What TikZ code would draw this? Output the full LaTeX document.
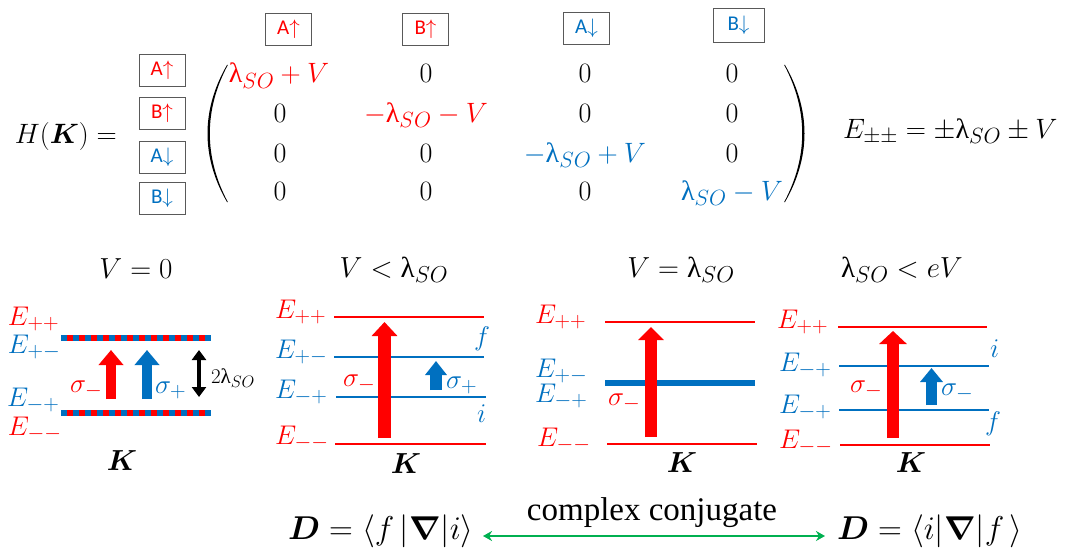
\documentclass[tikz,border=0pt]{standalone}
\usepackage{fix-cm}
\usepackage{amsmath}
\usepackage{fontspec}
\newfontfamily\carlito{Carlito}
\newfontfamily\lser{Liberation Serif}
\usetikzlibrary{arrows.meta}
\definecolor{myred}{RGB}{255,0,0}
\definecolor{myblue}{RGB}{0,112,192}
\definecolor{mygreen}{RGB}{0,176,80}
\DeclareMathSizes{21}{21}{16.5}{13}
\DeclareMathSizes{27}{27}{21.5}{17}
\DeclareMathSizes{28}{28}{22}{17.5}
\DeclareMathSizes{29}{29}{23}{18}
\DeclareMathSizes{33}{33}{26}{20}
\newcommand\lam{\text{\lser λ}}
\newcommand\fsz[1]{\fontsize{#1}{#1}\selectfont}
\tikzset{
  lbl/.style={inner sep=0pt, outer sep=0pt},
  entry/.style={lbl, anchor=base, font=\fsz{28}},
  basebox/.style={draw=black!65, line width=0.8pt, minimum width=46pt, minimum height=32pt, inner sep=0pt, font=\carlito\fsz{21}},
  elab/.style={lbl, anchor=base west, font=\fsz{27}},
  title/.style={lbl, anchor=base, font=\fsz{29}},
  kl/.style={lbl, anchor=base, font=\fsz{29}},
  sig/.style={lbl, anchor=base west, font=\fsz{27}},
  lev/.style={line width=1.8pt},
  fat/.style n args={3}{line width=#1, -{Triangle[width=#2,length=#3]}},
}
\begin{document}
\begin{tikzpicture}[x=1pt,y=-1pt]
\useasboundingbox (0,0) rectangle (1069,551);
\fill[white] (0,0) rectangle (1069,551);

% ---------- Hamiltonian ----------
\node[lbl, anchor=base west, font=\fsz{28}] (hk) at (15,143) {$H(\boldsymbol{K})=$};

\node[basebox, text=myred]  (tAu) at (288.5,29.5) {A$\uparrow$};
\node[basebox, text=myred]  (tBu) at (425.5,29) {B$\uparrow$};
\node[basebox, text=myblue] (tAd) at (586.5,28.5) {A$\downarrow$};
\node[basebox, text=myblue, minimum width=51pt, minimum height=34pt] (tBd) at (738.5,25) {B$\downarrow$};

\node[basebox, text=myred]  (lAu) at (162,70.5) {A$\uparrow$};
\node[basebox, text=myred]  (lBu) at (162,113) {B$\uparrow$};
\node[basebox, text=myblue] (lAd) at (162,157) {A$\downarrow$};
\node[basebox, text=myblue] (lBd) at (162,198.5) {B$\downarrow$};

% parentheses
\fill (227,65) .. controls (201,110) and (201,157) .. (227,202) -- (227.8,202) .. controls (203.8,157) and (203.8,110) .. (227.8,65) -- cycle;
\fill (785,65) .. controls (811,110) and (811,157) .. (785,202) -- (784.2,202) .. controls (808.2,157) and (808.2,110) .. (784.2,65) -- cycle;

\node[entry, text=myred] (m11) at (279,83) {$\lam_{SO}+V$};
\node[entry] (m12) at (426,83) {$0$};
\node[entry] (m13) at (585,83) {$0$};
\node[entry] (m14) at (732,83) {$0$};
\node[entry] (m21) at (280,122) {$0$};
\node[entry, text=myred] (m22) at (426,122) {$-\lam_{SO}-V$};
\node[entry] (m23) at (585,122) {$0$};
\node[entry] (m24) at (732,122) {$0$};
\node[entry] (m31) at (280,162) {$0$};
\node[entry] (m32) at (426,162) {$0$};
\node[entry, text=myblue] (m33) at (585,162) {$-\lam_{SO}+V$};
\node[entry] (m34) at (732,162) {$0$};
\node[entry] (m41) at (280,200) {$0$};
\node[entry] (m42) at (426,200) {$0$};
\node[entry] (m43) at (585,200) {$0$};
\node[entry, text=myblue] (m44) at (732,200) {$\lam_{SO}-V$};

\node[lbl, anchor=base west, font=\fsz{28}] (eq) at (843,138) {$E_{\pm\pm}=\pm\lam_{SO}\pm V$};

% ---------- Panel 1 ----------
\node[title] (t1) at (136,278) {$V=0$};
\draw[myred, line width=6pt] (61,338) -- (211,338);
\draw[myblue, line width=6pt, dash pattern=on 6pt off 6pt] (61,338) -- (211,338);
\draw[myred, line width=6pt] (61,413) -- (211,413);
\draw[myblue, line width=6pt, dash pattern=on 6pt off 6pt] (61,413) -- (211,413);
\node[elab, text=myred]  (p1a) at (8,325) {$E_{++}$};
\node[elab, text=myblue] (p1b) at (8,353) {$E_{+-}$};
\node[elab, text=myblue] (p1c) at (7,406) {$E_{-+}$};
\node[elab, text=myred]  (p1d) at (8,435) {$E_{--}$};
\coordinate (a1r0) at (111,399); \coordinate (a1r1) at (111,350);
\coordinate (a1b0) at (147,399); \coordinate (a1b1) at (147,350);
\draw[myred, fat={10pt}{24pt}{15pt}] (a1r0) -- (a1r1);
\draw[myblue, fat={10pt}{24pt}{15pt}] (a1b0) -- (a1b1);
\node[sig, text=myred] (s1a) at (70,392) {$\sigma_-$};
\node[sig, text=myblue] (s1b) at (155,393) {$\sigma_+$};
\coordinate (d1a) at (199,397); \coordinate (d1b) at (199,350);
\draw[line width=3.5pt, {Triangle[width=14pt,length=10pt]}-{Triangle[width=14pt,length=10pt]}] (d1a) -- (d1b);
\node[lbl, anchor=base west, font=\fsz{21}] (lam1) at (211,383) {$2\lam_{SO}$};
\node[kl] (k1) at (122,470) {$\boldsymbol{K}$};

% ---------- Panel 2 ----------
\node[title] (t2) at (394,277) {$V<\lam_{SO}$};
\draw[lev, myred]  (334,317) -- (484,317);
\draw[lev, myblue] (334,357) -- (484,357);
\draw[lev, myblue] (336,397) -- (486,397);
\draw[lev, myred]  (335,444) -- (486,444);
\node[elab, text=myred]  (p2a) at (275,318) {$E_{++}$};
\node[elab, text=myblue] (p2b) at (275,358) {$E_{+-}$};
\node[elab, text=myblue] (p2c) at (275,398) {$E_{-+}$};
\node[elab, text=myred]  (p2d) at (275,444) {$E_{--}$};
\coordinate (a2r0) at (384.5,438); \coordinate (a2r1) at (384.5,322);
\draw[myred, fat={13pt}{25pt}{14pt}] (a2r0) -- (a2r1);
\coordinate (a2b0) at (436,390); \coordinate (a2b1) at (436,361);
\draw[myblue, fat={12pt}{21pt}{14pt}] (a2b0) -- (a2b1);
\node[sig, text=myred] (s2a) at (343,386) {$\sigma_-$};
\node[sig, text=myblue] (s2b) at (446,388) {$\sigma_+$};
\node[sig, text=myblue] (f2) at (474,345) {$f$};
\node[sig, text=myblue] (i2) at (477,422) {$i$};
\node[kl] (k2) at (406,473) {$\boldsymbol{K}$};

% ---------- Panel 3 ----------
\node[title] (t3) at (681,277) {$V=\lam_{SO}$};
\draw[lev, myred]  (605,322) -- (755,322);
\draw[myblue, line width=6pt] (605,383) -- (755,383);
\draw[lev, myred]  (607,444) -- (757,444);
\node[elab, text=myred]  (p3a) at (535,323) {$E_{++}$};
\node[elab, text=myblue] (p3b) at (535,377) {$E_{+-}$};
\node[elab, text=myblue] (p3c) at (535,402) {$E_{-+}$};
\node[elab, text=myred]  (p3d) at (537,446) {$E_{--}$};
\coordinate (a3r0) at (651,437); \coordinate (a3r1) at (651,327);
\draw[myred, fat={12pt}{25pt}{13pt}] (a3r0) -- (a3r1);
\node[sig, text=myred] (s3a) at (608,405) {$\sigma_-$};
\node[kl] (k3) at (682,472) {$\boldsymbol{K}$};

% ---------- Panel 4 ----------
\node[title] (t4) at (902,277) {$\lam_{SO}<eV$};
\draw[lev, myred]  (838,327) -- (987,327);
\draw[lev, myblue] (839,366) -- (989,366);
\draw[lev, myblue] (839,410) -- (989,410);
\draw[lev, myred]  (840,445) -- (990,445);
\node[elab, text=myred]  (p4a) at (777,328) {$E_{++}$};
\node[elab, text=myblue] (p4b) at (779,371) {$E_{-+}$};
\node[elab, text=myblue] (p4c) at (779,413) {$E_{-+}$};
\node[elab, text=myred]  (p4d) at (779,448) {$E_{--}$};
\coordinate (a4r0) at (893,438); \coordinate (a4r1) at (893,331);
\draw[myred, fat={12pt}{27pt}{13pt}] (a4r0) -- (a4r1);
\coordinate (a4b0) at (931.5,405); \coordinate (a4b1) at (931.5,368);
\draw[myblue, fat={11pt}{22pt}{14pt}] (a4b0) -- (a4b1);
\node[sig, text=myred] (s4a) at (850,392) {$\sigma_-$};
\node[sig, text=myblue] (s4b) at (941,395) {$\sigma_-$};
\node[sig, text=myblue] (i4) at (990,357) {$i$};
\node[sig, text=myblue] (f4) at (985,430) {$f$};
\node[kl] (k4) at (911,472) {$\boldsymbol{K}$};

% ---------- Bottom ----------
\node[lbl, anchor=base west, font=\fsz{33}] (dl) at (288,539) {$\boldsymbol{D}=\langle f\,\vert\boldsymbol{\nabla}\vert i\rangle$};
\node[lbl, anchor=base west, font=\fsz{33}] (dr) at (837,539) {$\boldsymbol{D}=\langle i\vert\boldsymbol{\nabla}\vert f\,\rangle$};
\node[lbl, anchor=base, font=\lser\fsz{33}] (cc) at (652,520) {complex conjugate};
\coordinate (ga) at (483,536); \coordinate (gb) at (825,536);
\draw[mygreen, line width=2.5pt, {Stealth[length=9pt,width=10pt]}-{Stealth[length=9pt,width=10pt]}] (ga) -- (gb);
\end{tikzpicture}
\end{document}
